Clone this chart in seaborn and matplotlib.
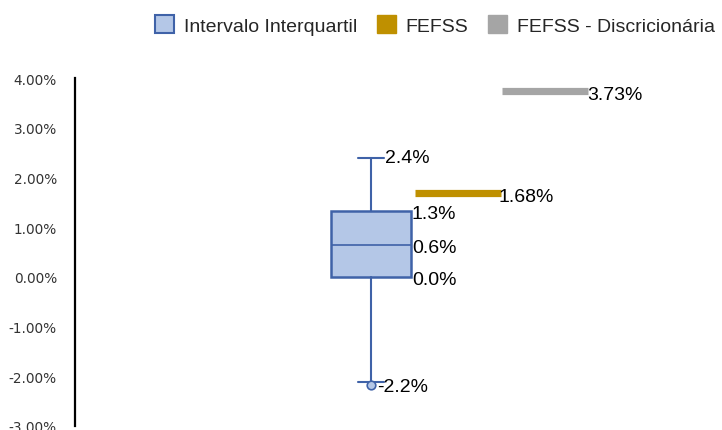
import matplotlib
matplotlib.use("Agg")
import matplotlib.pyplot as plt
import matplotlib.transforms as mtransforms
from matplotlib.patches import Patch
import seaborn as sns
import pandas as pd

# ---- data (percent) ----
box_labels = ["Intervalo Interquartil"]
whisker_high = 2.4
q3 = 1.33
median = 0.64
q1 = 0.0
whisker_low = -2.12
min_point = -2.17

series_names = ["FEFSS", "FEFSS - Discricionária"]
series_values = [1.68, 3.73]
series_pos = [1, 2]

yticks = [4, 3, 2, 1, 0, -1, -2, -3]

# ---- style ----
sns.set_theme(style="white")
plt.rcParams["font.family"] = ["Liberation Sans", "DejaVu Sans"]

BLUE_FILL = "#B4C7E7"
BLUE_EDGE = "#3F62A8"
GOLD = "#BF9000"
GREY = "#A5A5A5"

W, H = 722, 431
fig = plt.figure(figsize=(W / 100, H / 100), dpi=100)
ax = fig.add_axes([75 / W, 4 / H, (W - 75) / W, 348 / H])

stats = [dict(label=box_labels[0], whislo=whisker_low, q1=q1, med=median,
              q3=q3, whishi=whisker_high, fliers=[])]
ax.bxp(stats, positions=[0], widths=0.92, capwidths=0.31, patch_artist=True,
       showfliers=False,
       boxprops=dict(facecolor=BLUE_FILL, edgecolor=BLUE_EDGE, linewidth=1.8),
       medianprops=dict(color=BLUE_EDGE, linewidth=1.2),
       whiskerprops=dict(color=BLUE_EDGE, linewidth=1.5),
       capprops=dict(color=BLUE_EDGE, linewidth=1.5))

pts = pd.DataFrame({"x": [0], "y": [min_point]})
sns.scatterplot(data=pts, x="x", y="y", ax=ax, s=38, color=BLUE_FILL,
                edgecolor=BLUE_EDGE, linewidth=1.2, zorder=5, legend=False)

for pos, val, col in zip(series_pos, series_values, [GOLD, GREY]):
    ax.hlines(val, pos - 0.494, pos + 0.494, color=col, linewidth=5.2, zorder=3)

# ---- labels ----
def lab(x, y, text, dy=-2):
    tr = mtransforms.offset_copy(ax.transData, fig=fig, x=0, y=dy, units="points")
    ax.text(x, y, text, transform=tr, fontsize=14, color="black",
            va="center", ha="left", clip_on=False)

lab(0.16, whisker_high, f"{whisker_high:.1f}%", dy=0)
lab(0.47, q3, f"{q3:.1f}%")
lab(0.47, median, f"{median:.1f}%")
lab(0.47, q1, f"{q1:.1f}%")
lab(0.07, min_point, f"{min_point:.1f}%", dy=-1)
lab(1.46, series_values[0], f"{series_values[0]:.2f}%", dy=-2)
lab(2.48, series_values[1], f"{series_values[1]:.2f}%", dy=-2)

# ---- axes ----
ax.set_xlim(-3.402, 4.034)
ax.set_ylim(-3, 4)
ax.set_yticks(yticks)
ax.set_yticklabels([f"{v:.2f}%" for v in yticks], fontfamily="DejaVu Sans",
                   fontsize=9.8, color="#333333")
ax.set_xticks([])
ax.tick_params(axis="y", length=0, pad=13)
for s in ["top", "right", "bottom"]:
    ax.spines[s].set_visible(False)
ax.spines["left"].set_color("black")
ax.spines["left"].set_linewidth(1.6)
ax.set_xlabel("")
ax.set_ylabel("")
ax.grid(False)

handles = [Patch(facecolor=BLUE_FILL, edgecolor=BLUE_EDGE, linewidth=1.5),
           Patch(facecolor=GOLD, edgecolor=GOLD),
           Patch(facecolor=GREY, edgecolor=GREY)]
fig.legend(handles, box_labels + series_names, loc="center",
           bbox_to_anchor=(435 / W, 1 - 26 / H), ncol=3, frameon=False,
           fontsize=14, handlelength=1.0, handleheight=1.0,
           handletextpad=0.5, columnspacing=1.0, borderaxespad=0)

fig.savefig("out.png", dpi=100)
